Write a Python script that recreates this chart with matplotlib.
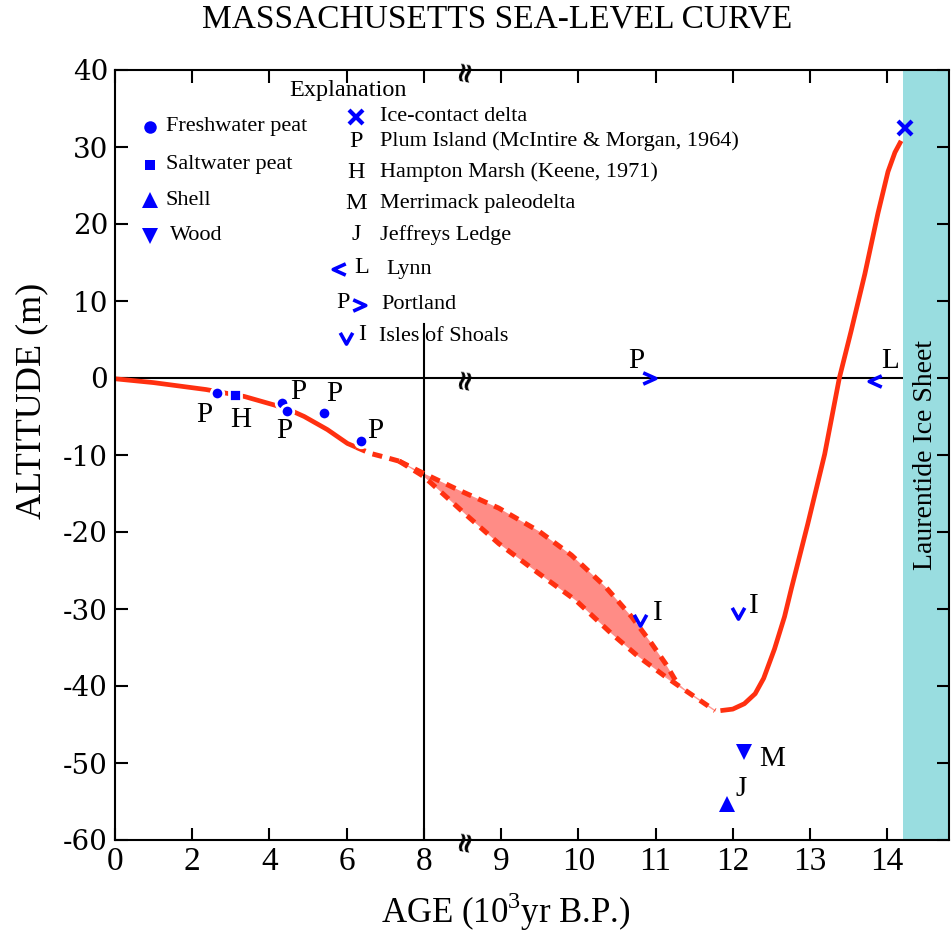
import numpy as np
import matplotlib.pyplot as plt
from matplotlib.path import Path

plt.rcParams['axes.unicode_minus'] = False
plt.rcParams['mathtext.fontset'] = 'custom'
plt.rcParams['mathtext.rm'] = 'Liberation Serif'
SERIF = 'Liberation Serif'

# sea-level curve (age in 10^3 yr B.P., altitude in m)
early_age = [0.0, 1.0, 2.36, 3.35, 4.12, 4.5, 4.9, 5.5, 6.02, 6.25]
early_alt = [-0.1, -0.6, -1.5, -2.4, -3.5, -4.1, -5.0, -6.7, -8.5, -9.0]
link_age = [6.25, 6.62, 7.0, 7.36]
link_alt = [-9.0, -9.8, -10.3, -10.8]
upper_age = [7.36, 8.0, 8.46, 8.97, 9.49, 9.91, 10.35, 10.69, 10.95, 11.13, 11.26, 11.39]
upper_alt = [-10.8, -12.4, -14.6, -16.9, -19.9, -23.0, -27.1, -31.0, -34.5, -37.1, -39.3, -40.6]
lower_age = [7.36, 8.0, 8.55, 8.97, 9.49, 9.97, 10.43, 10.78, 11.13, 11.39, 11.77]
lower_alt = [-10.8, -12.8, -17.8, -21.5, -25.4, -28.9, -33.2, -36.2, -38.8, -40.6, -43.2]
late_age = [11.84, 12.0, 12.15, 12.29, 12.4, 12.54, 12.67, 12.76, 12.97, 13.19,
            13.38, 13.53, 13.71, 13.88, 14.01, 14.1, 14.18]
late_alt = [-43.2, -43.0, -42.3, -41.0, -39.0, -35.2, -31.0, -27.3, -19.0, -9.9,
            0.0, 6.0, 13.5, 21.4, 26.8, 29.3, 30.8]

# dated samples
fresh_age = [2.64, 4.32, 4.45, 5.42, 6.36]
fresh_alt = [-2.0, -3.3, -4.3, -4.6, -8.2]
salt_age = [3.11]
salt_alt = [-2.2]
shell_age = [11.92]
shell_alt = [-55.3]
wood_age = [12.15]
wood_alt = [-48.6]
delta_age = [14.23]
delta_alt = [32.5]
lynn_age = [13.84]
lynn_alt = [-0.4]
portland_age = [10.91]
portland_alt = [0.0]
shoals_age = [10.8, 12.07]
shoals_alt = [-31.4, -30.5]

ice_start = 14.2
x_max = 14.8
break_at = 8.0

xticks = [0, 2, 4, 6, 8, 9, 10, 11, 12, 13, 14]
yticks = [-60, -50, -40, -30, -20, -10, 0, 10, 20, 30, 40]


def fwd(x):
    x = np.asarray(x, dtype=float)
    return np.where(x <= break_at, x, break_at + 2 * (x - break_at))


def inv(u):
    u = np.asarray(u, dtype=float)
    return np.where(u <= break_at, u, break_at + (u - break_at) / 2)


RED = '#ff3010'
BLUE = '#0000ff'

fig = plt.figure(figsize=(9.52, 9.39), dpi=100)
ax = fig.add_axes([115 / 952, 1 - 840 / 939, 834 / 952, 770 / 939])
ax.set_xscale('function', functions=(fwd, inv))
ax.set_xlim(0, x_max)
ax.set_ylim(-60, 40)

ax.axhline(0, color='black', lw=1.5, zorder=1)
ax.plot([break_at, break_at], [-60, 7], color='black', lw=1.5, zorder=2)
ax.axvspan(ice_start, x_max, color='#99dde0', zorder=1.5, lw=0)
ax.text(14.5, -10, 'Laurentide Ice Sheet', rotation=90, ha='center', va='center',
        fontsize=20, family=SERIF, zorder=3)

# uncertainty envelope
poly_x = upper_age + lower_age[:-1][::-1]
poly_y = upper_alt + lower_alt[:-1][::-1]
ax.fill(poly_x, poly_y, color='#ff8c86', lw=0, zorder=1.8)
ax.plot(lower_age[-3:], lower_alt[-3:], color='#ff9a94', lw=1, zorder=1.9)

dash = dict(color=RED, lw=3.6, dashes=(2.0, 1.5), zorder=3)
ax.plot(link_age, link_alt, **dash)
ax.plot(upper_age[:-1], upper_alt[:-1], **dash)
ax.plot(lower_age, lower_alt, **dash)
ax.plot(early_age, early_alt, color=RED, lw=3.4, zorder=3, solid_capstyle='butt')
ax.plot(late_age, late_alt, color=RED, lw=3.4, zorder=3, solid_capstyle='butt')

# sample markers
mk = dict(ls='none', color=BLUE, mec='white', zorder=4)
ax.plot(fresh_age, fresh_alt, marker='o', ms=9, mew=2, **mk)
ax.plot(salt_age, salt_alt, marker='s', ms=8, mew=2, **mk)
ax.plot(shell_age, shell_alt, marker='^', ms=11, mew=0, **mk)
ax.plot(wood_age, wood_alt, marker='v', ms=11, mew=0, **mk)
ax.plot(delta_age, delta_alt, marker='x', ls='none', color=BLUE, ms=10, mew=3, zorder=4)

chev_left = Path([(1, 0.9), (-1, 0), (1, -0.9)], [Path.MOVETO, Path.LINETO, Path.LINETO])
chev_right = Path([(-1, 0.9), (1, 0), (-1, -0.9)], [Path.MOVETO, Path.LINETO, Path.LINETO])
chev_down = Path([(-1, 0.9), (0, -0.9), (1, 0.9)], [Path.MOVETO, Path.LINETO, Path.LINETO])
chev = dict(ls='none', mfc='none', mec=BLUE, ms=9, mew=2.6, zorder=4)
ax.plot(lynn_age, lynn_alt, marker=chev_left, **chev)
ax.plot(portland_age, portland_alt, marker=chev_right, **chev)
ax.plot(shoals_age, shoals_alt, marker=chev_down, **chev)

# site letters next to the samples
site_pts = [
    ('P', fresh_age[0], fresh_alt[0], -13, -22),
    ('H', salt_age[0], salt_alt[0], 6, -25),
    ('P', fresh_age[1], fresh_alt[1], 16, 11),
    ('P', fresh_age[2], fresh_alt[2], -3, -20),
    ('P', fresh_age[3], fresh_alt[3], 10, 19),
    ('P', fresh_age[4], fresh_alt[4], 15, 10),
    ('P', portland_age[0], portland_alt[0], -12, 17),
    ('L', lynn_age[0], lynn_alt[0], 15, 20),
    ('I', shoals_age[0], shoals_alt[0], 18, 7),
    ('I', shoals_age[1], shoals_alt[1], 16, 7),
    ('M', wood_age[0], wood_alt[0], 28, -7),
    ('J', shell_age[0], shell_alt[0], 14, 15),
]
for s, xa, ya, dx, dy in site_pts:
    ax.annotate(s, (xa, ya), xytext=(dx, dy), textcoords='offset pixels',
                ha='center', va='center', fontsize=21, family=SERIF, zorder=5)

# axis break marks
for yb in [40, 0, -60]:
    ax.text(8.52, yb, '\u2248', rotation=80, ha='center', va='center', fontsize=20,
            fontweight='bold', clip_on=False, zorder=6)

# explanation block
tr = ax.transAxes
ef = dict(transform=tr, family=SERIF, fontsize=16, va='center')
ax.text(0.280, 0.973, 'Explanation', ha='center', **dict(ef, fontsize=17.5))
col1 = [('o', 9, 'Freshwater peat', 0.926), ('s', 7, 'Saltwater peat', 0.877),
        ('^', 12, 'Shell', 0.831), ('v', 12, 'Wood', 0.785)]
for m, size, label, yy in col1:
    ax.plot([0.042], [yy], marker=m, ms=size, color=BLUE, mew=0, transform=tr, clip_on=False)
    ax.text(0.061 if label != 'Wood' else 0.066, yy, label, ha='left', **ef)

ax.plot([0.289], [0.939], marker='x', ms=10, mew=3, color=BLUE, transform=tr)
ax.text(0.318, 0.939, 'Ice-contact delta', ha='left', **ef)
col2 = [('P', 'Plum Island (McIntire & Morgan, 1964)', 0.907),
        ('H', 'Hampton Marsh (Keene, 1971)', 0.867),
        ('M', 'Merrimack paleodelta', 0.827),
        ('J', 'Jeffreys Ledge', 0.786)]
for s, label, yy in col2:
    ax.text(0.289, yy, s, ha='center', **dict(ef, fontsize=17.5))
    ax.text(0.318, yy, label, ha='left', **ef)

ax.plot([0.269], [0.741], marker=chev_left, transform=tr, **chev)
ax.text(0.296, 0.743, 'L', ha='center', **dict(ef, fontsize=17.5))
ax.text(0.325, 0.741, 'Lynn', ha='left', **ef)
ax.text(0.274, 0.698, 'P', ha='center', **dict(ef, fontsize=17.5))
ax.plot([0.293], [0.695], marker=chev_right, transform=tr, **chev)
ax.text(0.319, 0.696, 'Portland', ha='left', **ef)
ax.plot([0.277], [0.652], marker=chev_down, transform=tr, **chev)
ax.text(0.296, 0.656, 'I', ha='center', **dict(ef, fontsize=17.5))
ax.text(0.317, 0.654, 'Isles of Shoals', ha='left', **ef)

# axes styling
ax.set_xticks(xticks)
ax.set_xticklabels([str(t) for t in xticks], family=SERIF, fontsize=24)
ax.set_yticks(yticks)
ax.set_yticklabels([str(t) for t in yticks], family='DejaVu Serif', fontsize=20)
ax.tick_params(direction='in', length=9, width=1.5, top=True, right=True, pad=5)
for sp in ax.spines.values():
    sp.set_linewidth(1.5)
    sp.set_zorder(6)

ax.set_xlabel('AGE (10$^3$yr B.P.)', family=SERIF, fontsize=25, va='center')
ax.xaxis.set_label_coords(0.469, -0.093)
ax.set_ylabel('ALTITUDE (m)', family=SERIF, fontsize=26, va='center')
ax.yaxis.set_label_coords(-0.1, 0.57)

fig.text(0.522, 0.979, 'MASSACHUSETTS SEA-LEVEL CURVE', ha='center', va='center',
         fontsize=24, family=SERIF)

fig.savefig('out.png', dpi=100)
